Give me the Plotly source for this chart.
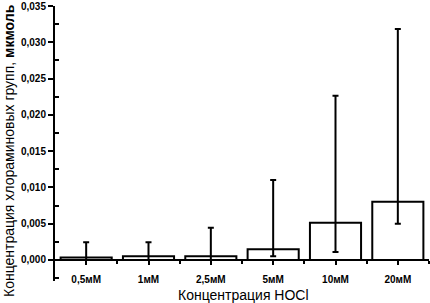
import plotly.graph_objects as go

categories = ["0,5мМ", "1мМ", "2,5мМ", "5мМ", "10мМ", "20мМ"]
means = [0.00035, 0.0005, 0.0005, 0.00147, 0.00514, 0.00803]
upper = [0.00244, 0.00244, 0.00445, 0.01102, 0.02264, 0.03183]
lower = [0.0, 0.0, 0.0, 0.0005, 0.0011, 0.0050]

plus = [u - m for u, m in zip(upper, means)]
minus = [m - l for m, l in zip(means, lower)]

FONT = "Liberation Sans, Arial, sans-serif"
ymin, ymax = -0.0029, 0.035

fig = go.Figure(go.Bar(
    x=list(range(len(categories))), y=means, width=0.82,
    marker=dict(color="white", line=dict(color="black", width=2)),
    error_y=dict(type="data", symmetric=False, array=plus, arrayminus=minus,
                 color="black", thickness=2, width=3),
))

fig.update_layout(
    width=430, height=303,
    margin=dict(l=55, r=1, t=6, b=22),
    plot_bgcolor="white", paper_bgcolor="white",
    separators=", ",
    showlegend=False,
    font=dict(family=FONT, color="black"),
    xaxis=dict(
        range=[-0.5, 5.5], tickmode="array", tickvals=list(range(len(categories))),
        ticktext=categories, showgrid=False, zeroline=False, automargin=False,
        showline=True, linecolor="black", linewidth=2,
        ticks="outside", ticklen=4, tickwidth=2, tickcolor="black",
        ticklabelstandoff=6,
        tickfont=dict(size=10, family=FONT, weight="bold"),
        anchor="free", position=(0 - ymin) / (ymax - ymin),
        minor=dict(tickvals=[0.5, 1.5, 2.5, 3.5, 4.5, 5.5], ticks="outside",
                   ticklen=3, tickwidth=2, tickcolor="black"),
    ),
    yaxis=dict(
        range=[ymin, ymax], tickmode="array", automargin=False,
        tickvals=[0, 0.005, 0.01, 0.015, 0.02, 0.025, 0.03, 0.035],
        tickformat=".3f", showgrid=False, zeroline=False,
        showline=True, linecolor="black", linewidth=2,
        ticks="outside", ticklen=5, tickwidth=2, tickcolor="black",
        tickfont=dict(size=10, family=FONT, weight="bold"),
        minor=dict(tickvals=[-0.0025, 0.0025, 0.0075, 0.0125, 0.0175, 0.0225, 0.0275, 0.0325],
                   ticks="inside", ticklen=4, tickwidth=2, tickcolor="black"),
    ),
    annotations=[
        dict(text="Концентрация хлораминовых групп, <b>мкмоль</b>", textangle=-90,
             xref="paper", yref="paper", x=(9 - 55) / 374, y=(281 - 151) / 275,
             xanchor="center", yanchor="middle", showarrow=False,
             font=dict(size=14, family=FONT, color="black")),
        dict(text="Концентрация HOCl",
             xref="paper", yref="paper", x=(243 - 55) / 374, y=(281 - 295) / 275,
             xanchor="center", yanchor="middle", showarrow=False,
             font=dict(size=14, family=FONT, color="black")),
    ],
)

fig.write_html("out.html", config={"displayModeBar": False},
               post_script="document.body.style.margin='0';document.body.style.overflow='hidden';")
